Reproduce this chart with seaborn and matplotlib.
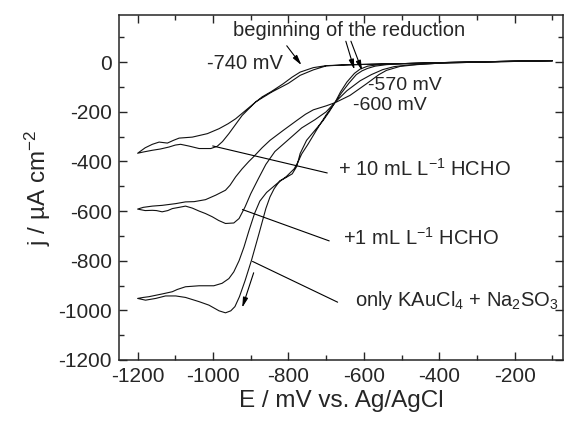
import matplotlib
matplotlib.use("Agg")
import matplotlib.pyplot as plt
import seaborn as sns
import pandas as pd

# --- data (E in mV, j in uA cm-2) ---
# only KAuCl4 + Na2SO3, forward (cathodic) sweep
e_au_fwd = [-100, -200, -300, -400, -500, -540, -570, -590, -605, -620, -640, -660, -676,
            -692, -708, -730, -752, -769, -778, -790, -810, -823, -838, -849, -860, -878,
            -898, -915, -930, -942, -953, -967, -984, -1011, -1037, -1073, -1099, -1126,
            -1152, -1179, -1200]
j_au_fwd = [6, 4, 1, -2, -6, -10, -16, -25, -35, -50, -85, -125, -161,
            -200, -235, -275, -315, -368, -420, -450, -468, -478, -510, -543, -590, -690,
            -798, -880, -945, -985, -1002, -1010, -1002, -979, -965, -948, -942, -942,
            -952, -959, -952]
# only KAuCl4 + Na2SO3, reverse sweep
e_au_rev = [-1200, -1185, -1170, -1135, -1108, -1095, -1073, -1037, -998, -976, -958, -945,
            -931, -918, -905, -890, -876, -858, -831, -805, -785, -774, -765, -748, -725,
            -700, -676, -645, -610, -580, -550, -520, -480, -400, -300, -200, -100]
j_au_rev = [-952, -948, -945, -934, -925, -916, -905, -901, -901, -891, -872, -845,
            -800, -745, -680, -610, -560, -525, -490, -460, -430, -400, -370, -330, -272,
            -212, -161, -115, -75, -50, -30, -18, -11, -4, 0, 3, 6]

# +1 mL/L HCHO
e_1ml_fwd = [-100, -200, -300, -400, -500, -560, -590, -610, -625, -645, -662, -676, -700,
             -730, -765, -800, -836, -860, -880, -900, -915, -931, -945, -967, -985, -1002,
             -1020, -1037, -1055, -1073, -1090, -1108, -1120, -1135, -1150, -1161, -1180, -1200]
j_1ml_fwd = [6, 4, 1, -2, -6, -10, -16, -28, -45, -80, -120, -161, -200,
             -232, -265, -312, -360, -412, -470, -530, -583, -630, -648, -650, -638, -623,
             -610, -600, -588, -580, -585, -590, -598, -603, -598, -597, -598, -592]
e_1ml_rev = [-1200, -1185, -1161, -1135, -1099, -1073, -1050, -1020, -993, -967, -955, -940,
             -923, -905, -893, -870, -849, -814, -778, -755, -734, -700, -676, -637, -593,
             -560, -540, -504, -460, -400, -300, -200, -100]
j_1ml_rev = [-592, -585, -580, -577, -570, -563, -562, -554, -536, -516, -496, -462,
             -430, -400, -382, -345, -315, -275, -235, -210, -192, -176, -163, -134, -87,
             -50, -33, -17, -10, -4, 0, 3, 6]

# +10 mL/L HCHO
e_10ml_fwd = [-100, -200, -300, -400, -500, -600, -650, -700, -734, -769, -800, -845, -887,
              -923, -958, -975, -989, -1006, -1037, -1064, -1086, -1100, -1117, -1140, -1161,
              -1185, -1200]
j_10ml_fwd = [6, 4, 1, -2, -6, -9, -11, -15, -31, -53, -85, -121, -160,
              -215, -288, -320, -339, -348, -348, -338, -331, -334, -342, -350, -355,
              -362, -367]
e_10ml_rev = [-1200, -1180, -1161, -1143, -1121, -1105, -1090, -1055, -1015, -984, -960, -940,
              -918, -896, -870, -845, -814, -790, -769, -734, -700, -650, -600, -500, -400,
              -300, -200, -100]
j_10ml_rev = [-367, -345, -331, -322, -326, -315, -306, -302, -288, -268, -248, -228,
              -200, -172, -140, -118, -87, -60, -40, -22, -14, -11, -9, -6, -2,
              1, 4, 6]

x_ticks = [-1200, -1000, -800, -600, -400, -200]
y_ticks = [-1200, -1000, -800, -600, -400, -200, 0]


def sweep_frame(name, e_fwd, j_fwd, e_rev, j_rev):
    fwd = pd.DataFrame({"E": e_fwd, "j": j_fwd})
    rev = pd.DataFrame({"E": e_rev, "j": j_rev})
    df = pd.concat([fwd, rev], ignore_index=True)
    df["bath"] = name
    return df


sns.set_style("ticks")
plt.rcParams["font.family"] = ["Liberation Sans", "DejaVu Sans"]
plt.rcParams["mathtext.fontset"] = "custom"
plt.rcParams["mathtext.rm"] = "Liberation Sans"
plt.rcParams["mathtext.it"] = "Liberation Sans:italic"
plt.rcParams["axes.unicode_minus"] = False

data = pd.concat([
    sweep_frame("only", e_au_fwd, j_au_fwd, e_au_rev, j_au_rev),
    sweep_frame("1ml", e_1ml_fwd, j_1ml_fwd, e_1ml_rev, j_1ml_rev),
    sweep_frame("10ml", e_10ml_fwd, j_10ml_fwd, e_10ml_rev, j_10ml_rev),
], ignore_index=True)

fig, ax = plt.subplots(figsize=(5.71, 4.23), dpi=100)
fig.subplots_adjust(left=0.208, right=0.986, top=0.9645, bottom=0.149)

for name, grp in data.groupby("bath"):
    sns.lineplot(data=grp, x="E", y="j", sort=False, estimator=None,
                 color="#111111", lw=0.8, ax=ax)

ax.set_xlim(-1250, -72)
ax.set_ylim(-1200, 190)
ax.set_xticks(x_ticks)
ax.set_yticks(y_ticks)
ax.set_xticks(range(-1100, -99, 200), minor=True)
ax.set_yticks(range(-1100, 200, 200), minor=True)
ax.tick_params(which="both", direction="in", top=True, right=True, width=1)
ax.tick_params(which="major", length=6, labelsize=15, pad=5)
ax.tick_params(which="minor", length=3.5)
for sp in ax.spines.values():
    sp.set_linewidth(1.1)

ax.set_xlabel("E / mV vs. Ag/AgCl", fontsize=17.5, labelpad=3)
ax.set_ylabel("j / \u00b5A cm$^{-2}$", fontsize=17.5, labelpad=4)

fs = 14.5
head = dict(arrowstyle="-|>,head_length=0.6,head_width=0.15", color="black", lw=0.8)
ax.text(-946, 107, "beginning of the reduction", fontsize=fs)
ax.annotate("", xy=(-623, -41), xytext=(-650, 95), arrowprops=head)
ax.annotate("", xy=(-602, -45), xytext=(-637, 95), arrowprops=head)
ax.text(-1017, -27, "-740 mV", fontsize=fs)
ax.annotate("", xy=(-761, -21), xytext=(-809, 75), arrowprops=head)
ax.text(-589, -112, "-570 mV", fontsize=14)
ax.text(-629, -192, "-600 mV", fontsize=14)

leader = dict(arrowstyle="-", color="black", lw=0.8)
ax.text(-668, -456, "+ 10 mL L$^{-1}$ HCHO", fontsize=fs)
ax.annotate("", xy=(-1008, -335), xytext=(-690, -449), arrowprops=leader)
ax.text(-655, -735, "+1 mL L$^{-1}$ HCHO", fontsize=fs)
ax.annotate("", xy=(-929, -590), xytext=(-685, -724), arrowprops=leader)
ax.text(-623, -983, "only KAuCl$_4$ + Na$_2$SO$_3$", fontsize=fs)
ax.annotate("", xy=(-902, -798), xytext=(-663, -972), arrowprops=leader)
ax.annotate("", xy=(-925, -1000), xytext=(-890, -838), arrowprops=head)

fig.savefig("out.png", dpi=100)
